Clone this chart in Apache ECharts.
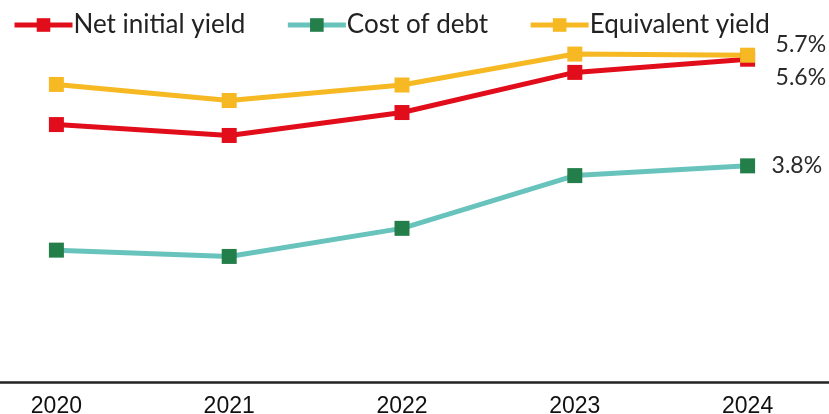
<!DOCTYPE html>
<html>
<head>
<meta charset="utf-8">
<style>
  html, body { margin: 0; padding: 0; background: #fff; }
  #chart { width: 829px; height: 414px; }
</style>
<script src="https://cdn.jsdelivr.net/npm/echarts@6/dist/echarts.min.js"></script>
</head>
<body>
<div id="chart"></div>
<script>
// years on the x axis
var years = ['2020', '2021', '2022', '2023', '2024'];
// values in %
var netInitialYield = [4.49, 4.30, 4.70, 5.40, 5.63];
var costOfDebt = [2.30, 2.19, 2.68, 3.60, 3.77];
var equivalentYield = [5.19, 4.91, 5.18, 5.72, 5.70];

var chart = echarts.init(document.getElementById('chart'));

function lineSeries(name, data, lineColor, markColor, labelDist, labelOffset) {
    return {
        name: name,
        type: 'line',
        data: data,
        symbol: 'rect',
        symbolSize: 15,
        lineStyle: { color: lineColor, width: 5 },
        itemStyle: { color: markColor, borderRadius: 2 },
        endLabel: {
            show: true,
            distance: labelDist,
            offset: labelOffset,
            color: '#2a2a2a',
            fontFamily: 'Lato',
            fontSize: 23,
            formatter: function (p) { return p.value.toFixed(1) + '%'; }
        }
    };
}

chart.setOption({
    animation: false,
    legend: {
        left: 7,
        top: 7,
        itemWidth: 58,
        itemHeight: 17,
        itemGap: 40,
        lineStyle: { width: 5 },
        textStyle: { fontFamily: 'Lato', fontSize: 26, color: '#222', padding: [0, 0, 0, -4] },
        data: ['Net initial yield', 'Cost of debt', 'Equivalent yield']
    },
    grid: { left: -30, right: -5, top: 38, bottom: 32, outerBoundsMode: 'none' },
    xAxis: {
        type: 'category',
        data: years,
        boundaryGap: true,
        axisLine: { lineStyle: { color: '#222', width: 2.5 } },
        axisTick: { show: false },
        axisLabel: { color: '#111', fontFamily: 'Liberation Sans', fontSize: 23, margin: 13 }
    },
    yAxis: {
        type: 'value',
        min: 0,
        max: 6,
        show: false,
        splitLine: { show: false }
    },
    series: [
        lineSeries('Cost of debt', costOfDebt, '#68c3bc', '#237e4a', 24, [0, 0]),
        lineSeries('Net initial yield', netInitialYield, '#e20d1a', '#e20d1a', 28, [0, 18]),
        lineSeries('Equivalent yield', equivalentYield, '#f6b924', '#f6b924', 28, [0, -11])
    ]
});
</script>
</body>
</html>
